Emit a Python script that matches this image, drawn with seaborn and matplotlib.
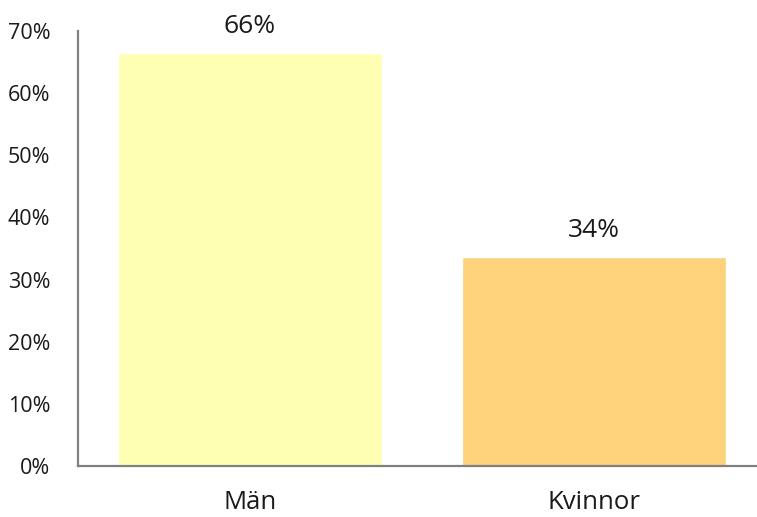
import matplotlib
matplotlib.use("Agg")
import matplotlib.pyplot as plt
import seaborn as sns
import pandas as pd
from matplotlib.ticker import PercentFormatter

# -------------------------------
# Data
# -------------------------------
categories = ["Män", "Kvinnor"]
shares = [0.664, 0.336]
labels = ["66%", "34%"]
bar_colors = ["#FFFFB3", "#FDD27A"]

df = pd.DataFrame({"kon": categories, "andel": shares})

sns.set_theme(style="white")
plt.rcParams["font.family"] = ["Open Sans", "DejaVu Sans"]

fig = plt.figure(figsize=(7.57, 5.17), dpi=100)
ax = fig.add_axes([78 / 757, 1 - 466 / 517, 688 / 757, 435 / 517])

sns.barplot(data=df, x="kon", y="andel", hue="kon", palette=bar_colors,
            width=0.765, saturation=1, legend=False, ax=ax)

for i, (v, lab) in enumerate(zip(shares, labels)):
    ax.text(i, v + 0.023, lab, ha="center", va="bottom", fontsize=19, color="#1a1a1a")

ax.set_ylim(0, 0.7)
ax.set_xlim(-0.5, 1.5)
ax.set_yticks([0, 0.1, 0.2, 0.3, 0.4, 0.5, 0.6, 0.7])
ax.yaxis.set_major_formatter(PercentFormatter(1.0, decimals=0))
ax.set_xlabel("")
ax.set_ylabel("")
ax.tick_params(axis="y", length=0, labelsize=15.5, colors="#1a1a1a", pad=20)
ax.tick_params(axis="x", length=0, labelsize=18.5, colors="#1a1a1a", pad=17)

sns.despine(ax=ax, top=True, right=True)
for s in ["left", "bottom"]:
    ax.spines[s].set_color("#808080")
    ax.spines[s].set_linewidth(1.6)

fig.savefig("out.png", dpi=100)
